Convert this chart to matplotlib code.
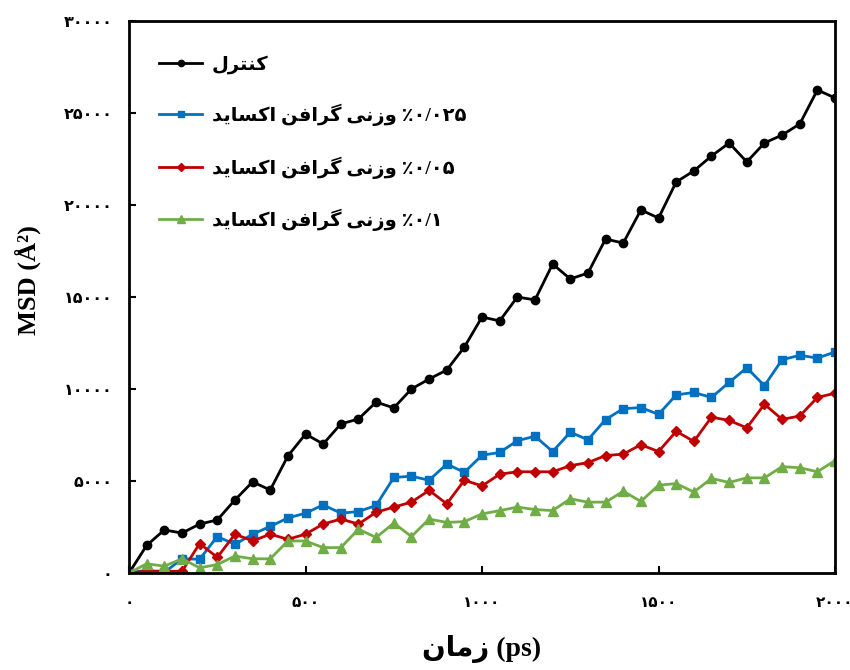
import matplotlib
matplotlib.use('Agg')
import matplotlib.pyplot as plt

# ---- Data ----
time = list(range(0, 2001, 50))   # ps

msd_control = [0, 1500, 2340, 2170, 2660, 2880, 3970, 4950, 4510, 6360,
               7550, 7010, 8100, 8370, 9290, 8970, 10000, 10540, 11030, 12280,
               13910, 13700, 15000, 14840, 16790, 15980, 16300, 18150, 17930, 19730,
               19290, 21250, 21850, 22660, 23370, 22340, 23370, 23800, 24400, 26250,
               25820]
msd_go025 = [0, 150, 30, 770, 750, 1980, 1560, 2110, 2530, 2990,
             3250, 3700, 3250, 3340, 3670, 5190, 5260, 5040, 5920, 5470,
             6400, 6550, 7190, 7430, 6600, 7650, 7240, 8340, 8930, 8990,
             8620, 9680, 9810, 9540, 10360, 11150, 10180, 11590, 11830, 11680,
             12010]
msd_go05 = [0, 100, 100, 90, 1600, 850, 2110, 1740, 2110, 1830,
            2110, 2660, 2930, 2660, 3300, 3580, 3850, 4490, 3760, 5040,
            4730, 5370, 5500, 5500, 5500, 5830, 6000, 6380, 6460, 6970,
            6600, 7700, 7150, 8470, 8290, 7890, 9170, 8350, 8530, 9540,
            9770]
msd_go1 = [0, 500, 370, 770, 280, 460, 920, 770, 770, 1740,
           1740, 1380, 1380, 2380, 1930, 2710, 1980, 2930, 2750, 2790,
           3210, 3390, 3580, 3450, 3390, 4030, 3850, 3850, 4440, 3890,
           4770, 4860, 4400, 5140, 4920, 5170, 5170, 5780, 5720, 5500,
           6110]

x_ticks = [0, 500, 1000, 1500, 2000]
y_ticks = [0, 5000, 10000, 15000, 20000, 25000, 30000]

# ---- Minimal Persian shaping (matplotlib has no Arabic text layout) ----
# letter: (isolated, final, initial, medial); None = does not join to the next letter
FORMS = {
    'ا': ('\uFE8D', '\uFE8E', None, None),
    'د': ('\uFEA9', '\uFEAA', None, None),
    'ر': ('\uFEAD', '\uFEAE', None, None),
    'ز': ('\uFEAF', '\uFEB0', None, None),
    'و': ('\uFEED', '\uFEEE', None, None),
    'ت': ('\uFE95', '\uFE96', '\uFE97', '\uFE98'),
    'س': ('\uFEB1', '\uFEB2', '\uFEB3', '\uFEB4'),
    'ف': ('\uFED1', '\uFED2', '\uFED3', '\uFED4'),
    'ل': ('\uFEDD', '\uFEDE', '\uFEDF', '\uFEE0'),
    'م': ('\uFEE1', '\uFEE2', '\uFEE3', '\uFEE4'),
    'ن': ('\uFEE5', '\uFEE6', '\uFEE7', '\uFEE8'),
    'ی': ('\uFBFC', '\uFBFD', '\uFBFE', '\uFBFF'),
    'ک': ('\uFB8E', '\uFB8F', '\uFB90', '\uFB91'),
    'گ': ('\uFB92', '\uFB93', '\uFB94', '\uFB95'),
}


def shape_word(word):
    out = []
    for i, ch in enumerate(word):
        iso, fin, ini, med = FORMS[ch]
        prev_joins = i > 0 and FORMS[word[i - 1]][2] is not None
        next_joins = i < len(word) - 1 and ini is not None
        if prev_joins and next_joins:
            out.append(med)
        elif prev_joins:
            out.append(fin)
        elif next_joins:
            out.append(ini)
        else:
            out.append(iso)
    return ''.join(reversed(out))


def fa(words):
    # words in reading (right-to-left) order -> visual left-to-right string
    return ' '.join(shape_word(w) if w[0] in FORMS else w for w in reversed(words))


def fa_num(n):
    return str(n).translate(str.maketrans('0123456789', '۰۱۲۳۴۵۶۷۸۹'))


labels = [
    fa(['کنترل']),
    fa(['٪۰/۰۲۵', 'وزنی', 'گرافن', 'اکساید']),
    fa(['٪۰/۰۵', 'وزنی', 'گرافن', 'اکساید']),
    fa(['٪۰/۱', 'وزنی', 'گرافن', 'اکساید']),
]
xlabel = fa(['زمان']) + ' (ps)'

mixed = ['Liberation Serif', 'DejaVu Sans']

# ---- Plot ----
fig = plt.figure(figsize=(8.5, 6.7), dpi=100)
ax = fig.add_axes([0.1518, 0.1448, 0.8306, 0.8239])

ax.plot(time, msd_control, '-o', color='black', lw=2, ms=6, label=labels[0])
ax.plot(time, msd_go025, '-s', color='#0070C0', lw=2, ms=6, label=labels[1])
ax.plot(time, msd_go05, '-D', color='#C00000', lw=2, ms=5.5, label=labels[2])
ax.plot(time, msd_go1, '-^', color='#70AD47', lw=2, ms=7, label=labels[3])

ax.set_xlim(0, 2000)
ax.set_ylim(0, 30000)
ax.set_xticks(x_ticks)
ax.set_xticklabels([fa_num(v) for v in x_ticks], fontweight='bold', fontsize=11)
ax.set_yticks(y_ticks)
ax.set_yticklabels([fa_num(v) for v in y_ticks], fontweight='bold', fontsize=11.5)
ax.tick_params(axis='both', direction='in', length=5, width=1.5)
ax.tick_params(axis='x', pad=16)
ax.tick_params(axis='y', pad=12)
for s in ax.spines.values():
    s.set_linewidth(2)

ax.set_ylabel('MSD (Å²)', family='Liberation Serif', fontweight='bold', fontsize=19)
ax.yaxis.set_label_coords(-0.125, 0.53)
ax.set_xlabel(xlabel, family=mixed, fontweight='bold', fontsize=20)
ax.xaxis.set_label_coords(0.5, -0.112)

ax.legend(loc='upper left', bbox_to_anchor=(0.018, 0.97), frameon=False,
          prop={'family': mixed, 'weight': 'bold', 'size': 14},
          handlelength=2.2, handletextpad=0.5, labelspacing=1.55, markerscale=0.75)

fig.savefig('out.png', dpi=100)
